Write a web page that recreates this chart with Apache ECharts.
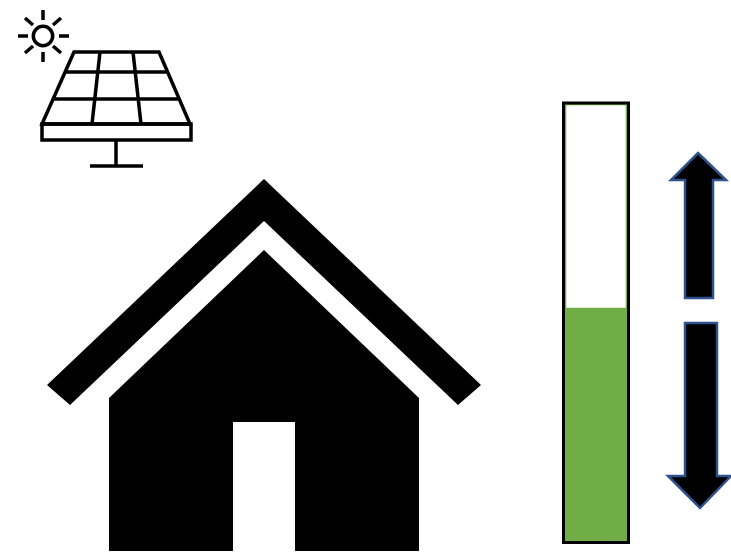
<!DOCTYPE html>
<html><head><meta charset="utf-8">
<style>html,body{margin:0;padding:0;background:#fff}#c{width:731px;height:556px}</style>
<script src="https://cdn.jsdelivr.net/npm/echarts@6/dist/echarts.min.js"></script>
</head><body><div id="c"></div>
<script>
const categories = ['Battery'];
const chargedValues = [53.3];
const emptyValues = [46.7];

const K = '#000';
function poly(points, extra) {
  return Object.assign({type:'polygon', shape:{points}, style:{fill:K}, silent:true, z:5}, extra||{});
}
function line(x1,y1,x2,y2,w) {
  return {type:'line', shape:{x1,y1,x2,y2}, style:{stroke:K, lineWidth:w||3.5}, silent:true, z:5};
}
const arrowStyle = {fill:K, stroke:'#2F528F', lineWidth:2.5, lineJoin:'miter'};
const graphic = [
  // house
  poly([[264,179],[481,385],[458,405],[264,221],[70,405],[47,385]]),
  poly([[264,250],[419,398],[419,551],[295,551],[295,422],[233,422],[233,551],[109,551],[109,398]]),
  // sun
  {type:'circle', shape:{cx:43,cy:36,r:9.7}, style:{fill:'#fff',stroke:K,lineWidth:3.5}, silent:true, z:5},
  line(43,10,43,20), line(43,52,43,62), line(18,36,28,36), line(59,36,69,36),
  line(25,18,33,25), line(61,18,53,25), line(25,53,33,46), line(61,53,53,46),
  // solar panel
  {type:'polygon', shape:{points:[[74,52],[159,52],[190,124],[42,124]]}, style:{fill:'none',stroke:K,lineWidth:3.5}, silent:true, z:5},
  {type:'rect', shape:{x:42,y:124,width:149,height:16}, style:{fill:'none',stroke:K,lineWidth:3.5}, silent:true, z:5},
  line(65,72,168,72), line(54,99,179,99),
  line(100,52,92,124), line(133,52,141,124),
  line(116,140,116,166), line(90,166,143,166),
  // arrows
  poly([[698,153],[726,180],[713,180],[713,298],[685,298],[685,180],[671,180]], {style:arrowStyle}),
  poly([[685,323],[717,323],[717,476],[731,476],[700,508],[668,476],[685,476]], {style:arrowStyle}),
  // battery frame
  {type:'rect', shape:{x:563.5,y:103,width:65,height:439.5}, style:{fill:'none',stroke:K,lineWidth:3}, silent:true, z:10}
];

const chart = echarts.init(document.getElementById('c'), null, {renderer:'canvas'});
chart.setOption({
  animation:false,
  backgroundColor:'#fff',
  grid:{left:564, top:103, width:64, height:439},
  xAxis:{type:'category', data:categories, show:false},
  yAxis:{type:'value', min:0, max:100, show:false},
  series:[
    {name:'Charged', type:'bar', stack:'b', data:chargedValues, barWidth:'100%', itemStyle:{color:'#70AD47'}, silent:true},
    {name:'Empty', type:'bar', stack:'b', data:emptyValues, barWidth:'100%', itemStyle:{color:'#fff', borderColor:'#70AD47', borderWidth:0}, silent:true}
  ],
  graphic:{elements:graphic.concat([
    {type:'rect', shape:{x:565.5,y:104.5,width:61,height:204}, style:{fill:'none',stroke:'#70AD47',lineWidth:1.5}, silent:true, z:6}
  ])}
});
</script></body></html>
